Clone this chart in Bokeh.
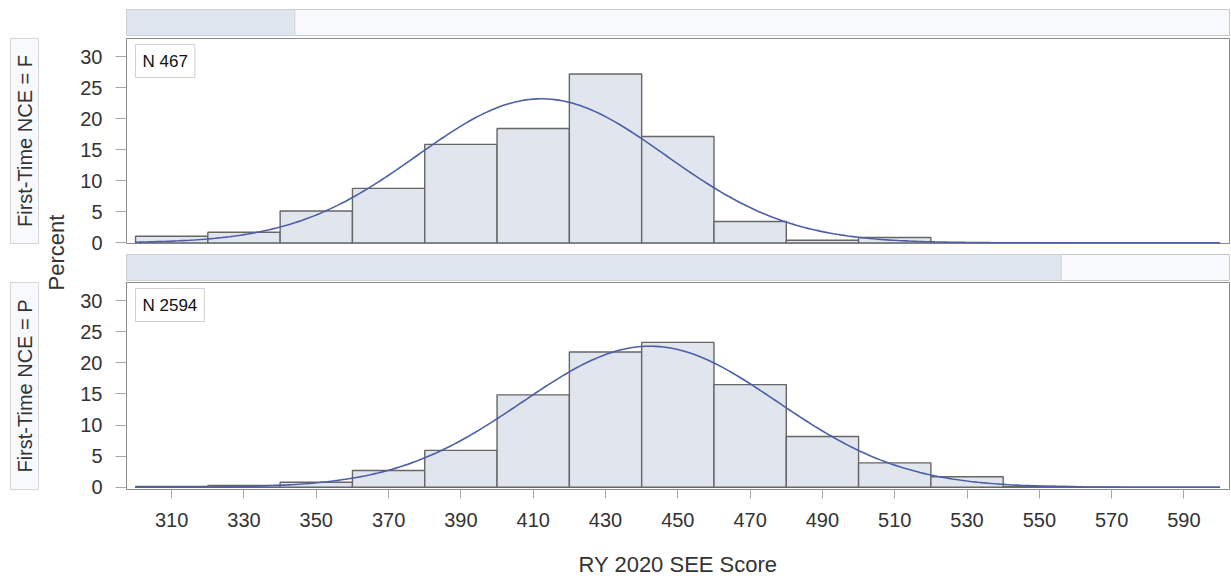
import numpy as np
from bokeh.plotting import figure
from bokeh.models import Range1d, Label
from bokeh.layouts import column, row
from bokeh.embed import file_html
from bokeh.resources import INLINE
from bokeh.core.properties import value

# ---------------- data ----------------
bin_left = [300, 320, 340, 360, 380, 400, 420, 440, 460, 480, 500, 520, 540, 560, 580]
bin_width = 20
pct_F = [1.07, 1.71, 5.14, 8.78, 15.85, 18.42, 27.19, 17.13, 3.43, 0.43, 0.86, 0, 0, 0, 0]
pct_P = [0.12, 0.31, 0.81, 2.70, 5.93, 14.85, 21.74, 23.28, 16.50, 8.17, 3.93, 1.70, 0.12, 0, 0]
n_F = 467
n_P = 2594
mu_F, sd_F = 412.3, 34.4   # fitted normal curve parameters
mu_P, sd_P = 442.3, 35.2
x_ticks = [310, 330, 350, 370, 390, 410, 430, 450, 470, 490, 510, 530, 550, 570, 590]
y_ticks = [0, 5, 10, 15, 20, 25, 30]
row_labels = ["First-Time NCE = F", "First-Time NCE = P"]
x_label = "RY 2020 SEE Score"
y_label = "Percent"

# ---------------- style ----------------
FONT = "Liberation Sans"
TXT = "#333333"
BAR_FILL = "#e0e5ee"
BAR_LINE = "#666666"
CURVE = "#4d5ea6"
FRAME_W = 1103
LEFT_W = 70
ML = 56
XR = (297.5, 602.6)
H = 576


def strip(prop, top, bottom):
    s = figure(frame_width=FRAME_W, frame_height=26, min_border_left=ML, min_border_right=2,
               min_border_top=top, min_border_bottom=bottom,
               x_range=Range1d(0, 1), y_range=Range1d(0, 1),
               x_axis_location=None, y_axis_location=None,
               toolbar_location=None, output_backend="svg")
    s.grid.visible = False
    s.background_fill_color = "#f8f9fc"
    s.border_fill_color = "white"
    s.outline_line_color = "#c8c8c8"
    s.quad(left=[0], right=[prop], bottom=[0], top=[1], fill_color="#dfe5ef", line_color=None)
    s.segment(x0=[prop], x1=[prop], y0=[0], y1=[1], line_color="#d2d2d2", line_width=1)
    return s


def panel(pct, mu, sd, n, frame_h, top, bottom, yr, show_x):
    p = figure(frame_width=FRAME_W, frame_height=frame_h, min_border_left=ML, min_border_right=2,
               min_border_top=top, min_border_bottom=bottom,
               x_range=Range1d(*XR), y_range=Range1d(*yr),
               x_axis_location="below" if show_x else None,
               toolbar_location=None, output_backend="svg")
    p.grid.visible = False
    p.outline_line_color = "#8a8a8a"
    p.border_fill_color = "white"
    yax = p.yaxis[0]
    yax.ticker = y_ticks
    yax.axis_line_color = None
    yax.major_tick_line_color = "#a8a8a8"
    yax.major_tick_out = 11
    yax.major_tick_in = 0
    yax.minor_tick_line_color = None
    yax.major_label_standoff = 13
    yax.major_label_text_font = FONT
    yax.major_label_text_font_size = "20px"
    yax.major_label_text_color = TXT
    if show_x:
        xax = p.xaxis[0]
        xax.ticker = x_ticks
        xax.axis_line_color = None
        xax.major_tick_line_color = "#a8a8a8"
        xax.major_tick_out = 9
        xax.major_tick_in = 0
        xax.minor_tick_line_color = None
        xax.major_label_standoff = 14
        xax.major_label_text_font = FONT
        xax.major_label_text_font_size = "20px"
        xax.major_label_text_color = TXT
        xax.axis_label = x_label
        xax.axis_label_text_font = FONT
        xax.axis_label_text_font_size = "22px"
        xax.axis_label_text_font_style = "normal"
        xax.axis_label_text_color = TXT
        xax.axis_label_standoff = 22
    right = [b + bin_width for b in bin_left]
    p.quad(left=bin_left, right=right, bottom=0, top=pct,
           fill_color=BAR_FILL, line_color=BAR_LINE, line_width=1.4)
    xs = np.linspace(300, 600, 301)
    ys = 100.0 * bin_width * np.exp(-0.5 * ((xs - mu) / sd) ** 2) / (sd * np.sqrt(2 * np.pi))
    p.line(xs, ys, line_color=CURVE, line_width=1.6)
    lab = Label(x=XR[0], y=yr[1], x_offset=9, y_offset=-6, text=f"N {n}",
                text_align="left", text_baseline="top", text_font=FONT,
                text_font_size="17px", text_color="#111111",
                background_fill_color="white", border_line_color="#d0d0d0",
                padding=7)
    p.add_layout(lab)
    return p


strip_F = strip(n_F / (n_F + n_P), 9, 1)
panel_F = panel(pct_F, mu_F, sd_F, n_F, 205, 2, 11, (-0.1, 32.9), False)
strip_P = strip(n_P / (n_F + n_P), 0, 1)
panel_P = panel(pct_P, mu_P, sd_P, n_P, 207, 1, 88, (-0.35, 32.9), True)

# ---------------- left label column ----------------
left = figure(frame_width=LEFT_W, frame_height=H, min_border=0,
              x_range=Range1d(0, LEFT_W), y_range=Range1d(0, H),
              x_axis_location=None, y_axis_location=None,
              toolbar_location=None, output_backend="svg")
left.grid.visible = False
left.outline_line_color = None
left.border_fill_color = "white"
box_top = [38, 282]
box_bot = [243, 489]
left.quad(left=[10, 10], right=[38, 38], top=[H - t for t in box_top],
          bottom=[H - b for b in box_bot], fill_color="#f8f9fc", line_color="#d6d6d6")
left.text(x=[24, 24], y=[H - (t + b) / 2 for t, b in zip(box_top, box_bot)], text=row_labels,
          angle=np.pi / 2, text_align="center", text_baseline="middle",
          text_font=value(FONT), text_font_size="20px", text_color=TXT)
left.text(x=[56], y=[H - 252], text=[y_label], angle=np.pi / 2, text_align="center",
          text_baseline="middle", text_font=value(FONT), text_font_size="22px", text_color=TXT)

layout = row(left, column(strip_F, panel_F, strip_P, panel_P, spacing=0), spacing=0)
open("out.html", "w").write(file_html(layout, INLINE))
